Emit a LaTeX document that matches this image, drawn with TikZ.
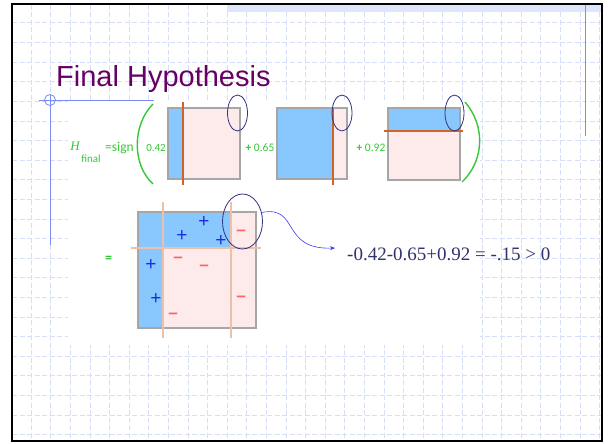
\documentclass[tikz,border=0pt]{standalone}
\usepackage{fontspec}
\setmainfont{Liberation Serif}
\newfontfamily\titlefont{Liberation Sans}
\newfontfamily\calfont{Carlito}
\usetikzlibrary{arrows.meta,shapes.geometric,calc}

\definecolor{gridblue}{RGB}{214,222,250}
\definecolor{hatchblue}{RGB}{222,230,252}
\definecolor{slideblue}{RGB}{120,140,245}
\definecolor{plum}{RGB}{102,0,102}
\definecolor{eqgreen}{RGB}{55,200,55}
\definecolor{posblue}{RGB}{136,200,255}
\definecolor{negpink}{RGB}{253,234,234}
\definecolor{cutorange}{RGB}{205,100,45}
\definecolor{ringblue}{RGB}{50,50,130}
\definecolor{resultink}{RGB}{50,50,110}
\definecolor{plusblue}{RGB}{25,45,230}
\definecolor{minusred}{RGB}{250,100,100}
\definecolor{linkblue}{RGB}{60,60,240}

\tikzset{
  gridline/.style={draw=gridblue, line width=0.6pt, dash pattern=on 5pt off 2.5pt},
  stumpframe/.style={draw=black!35, line width=1.2pt},
  posfill/.style={fill=posblue},
  negfill/.style={fill=negpink},
  cutline/.style={draw=cutorange, line width=1.3pt},
  softcut/.style={draw=cutorange!40, line width=1.2pt},
  markring/.style={draw=ringblue, ellipse, inner sep=0pt, line width=0.8pt},
  coef/.style={text=eqgreen, font=\calfont\fontsize{11}{13}\selectfont, inner sep=0pt},
  paren/.style={draw=eqgreen, line width=1.4pt},
  plusmark/.style={text=plusblue, font=\titlefont\fontsize{19}{19}\selectfont, inner sep=0pt},
  minusmark/.style={text=minusred, font=\titlefont\bfseries\fontsize{17}{17}\selectfont, inner sep=0pt},
  flowarrow/.style={draw=linkblue, line width=0.6pt, -{Stealth[length=5pt,width=4pt]}},
}

\begin{document}
\begin{tikzpicture}[x=1pt,y=-1pt]
  \useasboundingbox (0,0) rectangle (608,444);
  \fill[white] (0,0) rectangle (608,444);
  % slide grid
  \foreach \i in {0,...,29}
    \draw[gridline] ({31+19.6*\i},5) -- ({31+19.6*\i},440);
  \foreach \j in {0,...,21}
    \draw[gridline] (12,{22.8+19.6*\j}) -- (602,{22.8+19.6*\j});
  \fill[hatchblue] (227,5) rectangle (602,12);
  \fill[white] (68,100) rectangle (480,345);
  % slide decoration
  \draw[slideblue, line width=1pt] (39,100) -- (154,100);
  \draw[slideblue, line width=1pt] (50,95) -- (50,245);
  \draw[slideblue, line width=0.8pt] (50,100) circle (5.5);
  \draw[slideblue, line width=1pt] (585,4) -- (585,136);

  \node[anchor=base west, inner sep=0pt, text=plum, font=\titlefont\fontsize{29}{32}\selectfont] (title) at (56,87) {Final Hypothesis};

  % H_final = sign( ... )
  \node[coef, font=\itshape\fontsize{13}{13}\selectfont] (hsym) at (75,146) {H};
  \node[coef] (hsub) at (91,159) {final};
  \node[coef, font=\calfont\fontsize{13.5}{14}\selectfont] (signop) at (119.5,148) {=sign};
  \draw[paren] (153,104) .. controls (132,125) and (132,165) .. (153,184);
  \node[coef] (wone) at (156,148) {0.42};

  % stump 1
  \fill[negfill] (168,108) rectangle (240,179);
  \fill[posfill] (168,108) rectangle (183,179);
  \draw[stumpframe] (168,108) rectangle (240,179);
  \draw[cutline] (183,102) -- (183,185);
  \node[markring, minimum width=20pt, minimum height=36pt] (ringone) at (237.5,113) {};

  \node[coef, font=\calfont\fontsize{11.5}{13}\selectfont] (wtwo) at (260,148) {\textbf{+} 0.65};

  % stump 2
  \fill[negfill] (277,108) rectangle (347,179);
  \fill[posfill] (277,108) rectangle (333,179);
  \draw[stumpframe] (277,108) rectangle (347,179);
  \draw[cutline] (333,108) -- (333,185);
  \node[markring, minimum width=20pt, minimum height=36pt] (ringtwo) at (342,113) {};

  \node[coef, font=\calfont\fontsize{11.5}{13}\selectfont] (wthree) at (371,148) {\textbf{+} 0.92};

  % stump 3
  \fill[negfill] (388,108) rectangle (460,180);
  \fill[posfill] (388,108) rectangle (460,131);
  \draw[stumpframe] (388,108) rectangle (460,180);
  \draw[cutline] (384,131) -- (463,131);
  \node[markring, minimum width=19pt, minimum height=36pt] (ringthree) at (454.5,113) {};
  \draw[paren] (465,102) .. controls (485,125) and (485,160) .. (462,182);

  % combined classifier
  \node[coef, font=\calfont\bfseries\fontsize{14}{14}\selectfont] (eqsign) at (108.5,259) {=};
  \fill[negfill] (138,212) rectangle (256,328);
  \fill[posfill] (138,212) rectangle (231,248);
  \fill[posfill] (138,212) rectangle (163,328);
  \draw[stumpframe] (138,212) rectangle (256,328);
  \draw[softcut] (163,202) -- (163,338);
  \draw[softcut] (231,202) -- (231,338);
  \draw[softcut] (131,248) -- (261,248);
  \foreach \p in {(204,222),(182,236),(221,241),(151,265),(156,299)}
    \node[plusmark] at \p {+};
  \foreach \m in {(241,233),(178,260),(204,268),(241,299),(173,316)}
    \node[minusmark] at \m {–};
  \node[markring, minimum width=40pt, minimum height=55pt] (bigring) at (242.5,221.5) {};

  \node[anchor=west, inner xsep=12pt, inner ysep=0pt, text=resultink, font=\fontsize{19}{21}\selectfont] (result) at (335,254) {-0.42-0.65+0.92 = -.15 > 0};
  \draw[flowarrow] (bigring.25) .. controls (300,205) and (280,250) .. ([yshift=6pt]result.west);

  % slide frame
  \draw[black, line width=2pt] (12,4) rectangle (602,441);
\end{tikzpicture}
\end{document}
